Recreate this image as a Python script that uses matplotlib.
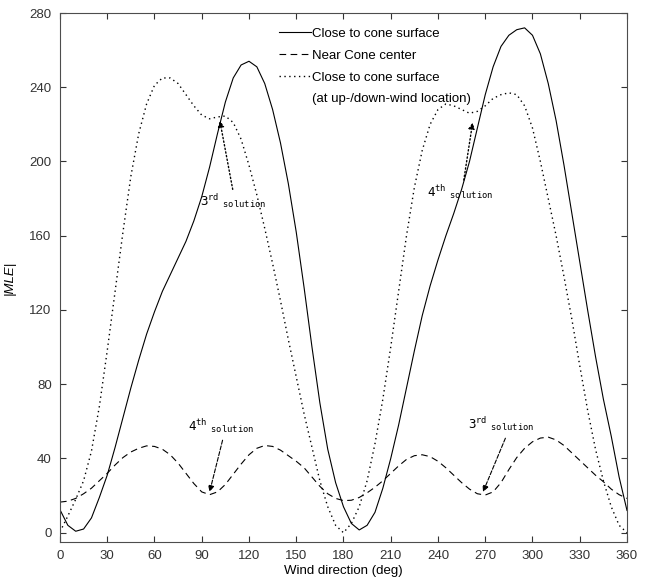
import matplotlib
matplotlib.use('Agg')
import matplotlib.pyplot as plt
from matplotlib.lines import Line2D

# wind direction (deg) sampled every 5 deg
wind = list(range(0, 365, 5))

# close to cone surface (solid)
mle_surface = [12.4, 4, 0.8, 2, 8, 19, 31, 46, 62, 78, 93, 107, 119, 130, 139, 148,
               157, 168, 181, 197, 215, 232, 245, 252, 254, 251, 242, 228, 210, 188,
               162, 132, 100, 70, 45, 27, 14, 5, 1.5, 4, 11, 24, 40, 58, 78, 98,
               117, 133, 147, 160, 172, 185, 200, 218, 236, 251, 262, 268, 271, 272,
               268, 258, 242, 222, 198, 172, 146, 120, 95, 72, 52, 30, 12]

# near cone center (dashed)
mle_center = [16.5, 17, 18.5, 21, 24, 28, 32, 36.5, 40.5, 43.5, 45.5, 46.8, 46.5, 45,
              42, 37.5, 32, 26.5, 22, 20.5, 22, 26, 31.5, 37, 42, 45.5, 47, 46.5,
              44.5, 41.5, 38.5, 35, 30, 25, 21, 18.5, 17.3, 17.5, 19, 21.5, 24.5, 28,
              32, 36, 39.5, 41.5, 42, 41, 38.5, 35, 31, 27, 23.5, 21, 20.3, 22, 27,
              34, 40.5, 45.5, 49, 51, 51.5, 50, 47, 43, 39, 35, 31, 27.5, 23.5, 20.5,
              18.5]

# close to cone surface, up-/down-wind location (dotted)
mle_updown = [0.5, 9, 18, 28, 44, 68, 98, 130, 162, 192, 215, 231, 241, 245, 245, 242,
              236, 230, 225, 223, 224, 224.5, 221, 212, 198, 182, 164, 145, 125, 104,
              84, 64, 46, 28, 14, 4, 0, 5, 14, 28, 48, 72, 100, 130, 160, 186, 206,
              220, 228, 231, 230, 228, 226, 227, 230, 234, 236, 237, 236, 230, 218,
              200, 180, 160, 138, 115, 90, 66, 45, 28, 14, 4, 0]

plt.rcParams['font.family'] = ['Liberation Sans', 'DejaVu Sans']
plt.rcParams['mathtext.fontset'] = 'dejavusans'

fig = plt.figure(figsize=(6.49, 5.83), dpi=100)
ax = fig.add_axes([0.0924, 0.0703, 0.8737, 0.9074])

ax.plot(wind, mle_surface, color='black', lw=0.8, ls='-')
ax.plot(wind, mle_center, color='black', lw=0.8, ls=(0, (6, 4)))
ax.plot(wind, mle_updown, color='black', lw=1.0, ls=(0, (1, 2.5)))

ax.set_xlim(0, 360)
ax.set_ylim(-5, 280)
ax.set_xticks(range(0, 361, 30))
ax.set_yticks(range(0, 281, 40))
ax.tick_params(direction='in', top=True, right=True, length=4, labelsize=9.5,
               colors='0.2', pad=6)
for s in ax.spines.values():
    s.set_color('0.3')
    s.set_linewidth(0.8)
ax.set_xlabel('Wind direction (deg)', fontsize=9.5, labelpad=2)
ax.set_ylabel('|MLE|', fontsize=9.5, style='italic', labelpad=10)

# legend (fourth row is a continuation of the third label)
handles = [Line2D([], [], color='black', lw=0.8, ls='-'),
           Line2D([], [], color='black', lw=0.8, ls=(0, (6, 4))),
           Line2D([], [], color='black', lw=1.0, ls=(0, (1, 2.5))),
           Line2D([], [], color='none')]
labels = ['Close to cone surface', 'Near Cone center', 'Close to cone surface',
          '(at up-/down-wind location)']
ax.legend(handles, labels, loc='upper left', bbox_to_anchor=(0.386, 0.972),
          frameon=False, fontsize=9.5, handlelength=2.4, handletextpad=0.15,
          labelspacing=0.72, borderaxespad=0, borderpad=0)

mono = dict(fontsize=9, color='black', ha='left', va='baseline')
ax.annotate(r'$\mathtt{3^{rd}\ _{solution}}$', xy=(101.5, 222), xytext=(89, 176),
            arrowprops=dict(arrowstyle='-|>', ls=':', lw=1.0, color='black',
                            mutation_scale=9, shrinkA=0, shrinkB=0,
                            relpos=(0.5, 1)), **mono)
ax.annotate(r'$\mathtt{4^{th}\ _{solution}}$', xy=(262, 221), xytext=(233, 181),
            arrowprops=dict(arrowstyle='-|>', ls=':', lw=1.0, color='black',
                            mutation_scale=9, shrinkA=0, shrinkB=0,
                            relpos=(0.55, 1)), **mono)
ax.annotate(r'$\mathtt{4^{th}\ _{solution}}$', xy=(95, 22), xytext=(81, 55),
            arrowprops=dict(arrowstyle='-|>', ls='--', lw=0.8, color='black',
                            mutation_scale=9, shrinkA=2, shrinkB=0,
                            relpos=(0.55, 0)), **mono)
ax.annotate(r'$\mathtt{3^{rd}\ _{solution}}$', xy=(268.6, 22), xytext=(259, 56),
            arrowprops=dict(arrowstyle='-|>', ls='--', lw=0.8, color='black',
                            mutation_scale=9, shrinkA=2, shrinkB=0,
                            relpos=(0.6, 0)), **mono)

fig.savefig('out.png', dpi=100)
